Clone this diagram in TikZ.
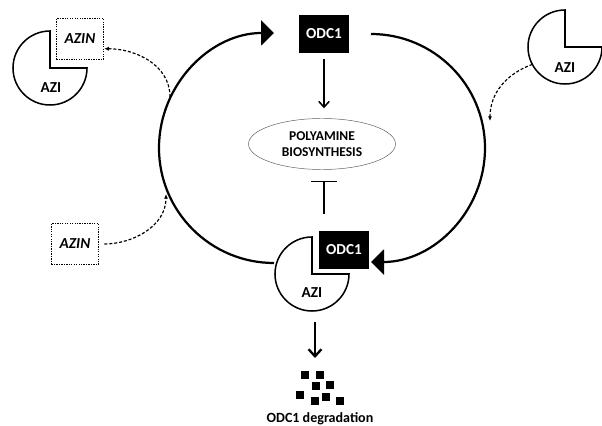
\documentclass[tikz,border=0pt]{standalone}
\usepackage{fontspec}
\setmainfont{Carlito}
\usepackage{tikz}
\usetikzlibrary{arrows.meta,shapes.geometric,positioning}
\newcommand{\pacman}[1]{\draw[line width=1.3pt] (#1.center) -- (#1.north)
  arc[start angle=90,end angle=360,radius=1.11cm] -- cycle;}

\begin{document}
\begin{tikzpicture}[x=0.03cm,y=-0.03cm
	,>={Straight Barb[length=5pt,width=9pt]}
	,semithick]
  \tikzstyle{every node}=[inner sep=0pt]
  \tikzstyle{odc}=[fill=black,text=white,minimum width=1.47cm,minimum height=1.13cm
  ,font=\fontsize{13}{15}\selectfont\bfseries]
  \tikzstyle{azin}=[draw,densely dotted,line width=1.1pt,minimum width=1.41cm
  ,minimum height=1.23cm,font=\fontsize{13}{15}\selectfont\bfseries\itshape]
  \tikzstyle{pac}=[circle,minimum size=2.22cm,outer sep=0pt]
  \tikzstyle{lab}=[font=\fontsize{13}{15}\selectfont\bfseries]
  \tikzstyle{wheel}=[line width=1.9pt,-{Triangle[length=0.39cm,width=0.75cm]}]
  \tikzstyle{hop}=[line width=1pt,dash pattern=on 2.6pt off 1.6pt
  ,-{Latex[length=4pt,width=3.5pt]}]
  \tikzstyle{bit}=[fill=black,minimum size=0.23cm]

  \useasboundingbox (0,0) rectangle (602,426);

  % ODC1 and polyamines
  \node[odc](odcT) at (324,34) {ODC1};
  \node[odc](odcB) at (344,250) {ODC1};
  \node[ellipse,draw=gray!70!black,thin,minimum width=4.41cm,minimum height=1.53cm
  ,align=center,font=\fontsize{11.5}{13.7}\selectfont\bfseries](poly) at (322,144)
  {POLYAMINE\\BIOSYNTHESIS};

  % AZI and AZIN
  \node[pac](aziL) at (50,68) {};
  \node[pac](aziR) at (565,47) {};
  \node[pac](aziB) at (312,274) {};
  \pacman{aziL}
  \pacman{aziR}
  \pacman{aziB}
  \node[lab](aziLt) at (51,88) {AZI};
  \node[lab](aziRt) at (565,68) {AZI};
  \node[lab](aziBt) at (312,293) {AZI};
  \node[azin](aznT) at (80,39) {AZIN};
  \node[azin](aznB) at (75,244) {AZIN};

  % the cycle
  \coordinate (cycB) at (274,263);
  \coordinate (cycT) at (371,34);
  \draw[wheel] (cycB) arc[start angle=270,end angle=90,radius=3.45cm];
  \draw[wheel] (cycT) arc[start angle=90,end angle=-90,radius=3.42cm];

  % degradation
  \foreach \x/\y [count=\i] in {305/375,320/375,316/386,330/385,300/395,315/401,326/397,340/401}
    \node[bit](b\i) at (\x,\y) {};
  \node[font=\fontsize{12}{14}\selectfont\bfseries,anchor=base](degtxt) at (320,422.5)
  {ODC1 degradation};

  % arrows
  \coordinate (cplx) at (324,214);
  \coordinate (dgA) at (315,322);
  \coordinate (dgB) at (315,358);
  \coordinate (onL1) at (170,97);
  \coordinate (onL2) at (166,194);
  \coordinate (onR) at (490,121);
  \path [->,line width=1.3pt,shorten <=5pt,shorten >=8.5pt] (odcT) edge (odcT |- poly.north);
  \path [-{Bar[width=0.78cm]},line width=1.3pt,shorten >=9.5pt] (cplx) edge (cplx |- poly.south);
  \path [-{Straight Barb[length=6pt,width=11pt]},line width=2pt] (dgA) edge (dgB);
  \path [hop] (onL1) edge[out=90,in=0] (aznT.-22);
  \path [hop,shorten <=4.5pt] (aznB.east) edge[out=0,in=270] (onL2);
  \path [hop] (aziR.208) edge[out=200,in=90] (onR);
\end{tikzpicture}
\end{document}
